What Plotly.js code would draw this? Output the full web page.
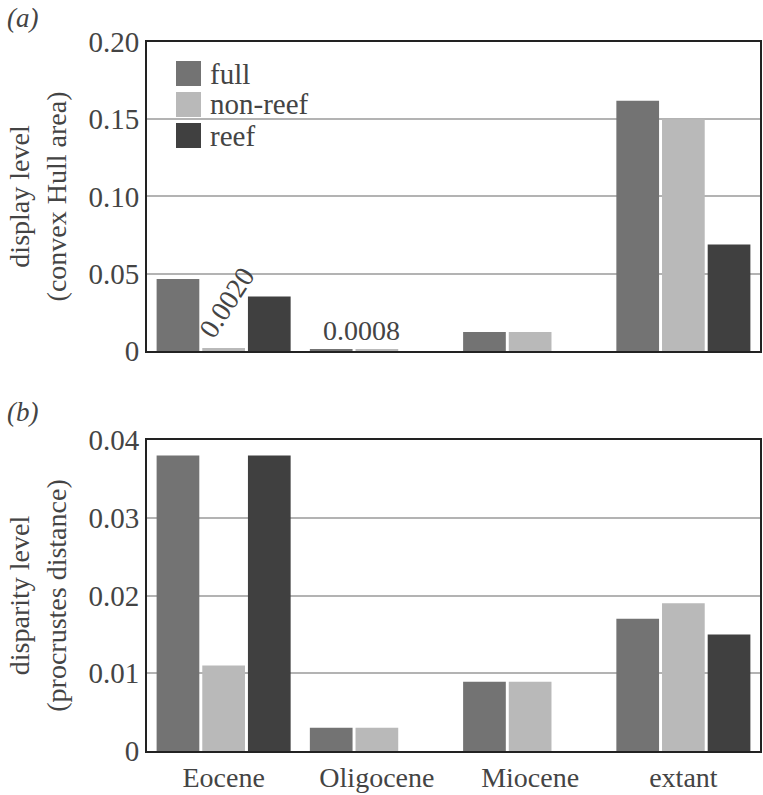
<!DOCTYPE html>
<html>
<head>
<meta charset="utf-8">
<script src="https://cdn.plot.ly/plotly-3.0.1.min.js"></script>
</head>
<body style="margin:0">
<div id="c" style="width:763px;height:795px"></div>
<script>
const categories = ["Eocene", "Oligocene", "Miocene", "extant"];
const seriesNames = ["full", "non-reef", "reef"];
const seriesColors = ["#737373", "#b9b9b9", "#404040"];

// panel (a): display level (convex Hull area)
const hullFull = [0.0466, 0.0008, 0.0123, 0.162];
const hullNonReef = [0.0020, 0.0008, 0.0123, 0.150];
const hullReef = [0.0353, 0.0, 0.0, 0.069];

// panel (b): disparity level (procrustes distance)
const procFull = [0.038, 0.003, 0.0089, 0.017];
const procNonReef = [0.011, 0.003, 0.0089, 0.019];
const procReef = [0.038, 0.0, 0.0, 0.015];

const ticksA = [0, 0.05, 0.10, 0.15, 0.20];
const tickTextA = ["0", "0.05", "0.10", "0.15", "0.20"];
const ticksB = [0, 0.01, 0.02, 0.03, 0.04];
const tickTextB = ["0", "0.01", "0.02", "0.03", "0.04"];

const traces = [];
[hullFull, hullNonReef, hullReef].forEach((vals, i) => {
  traces.push({type: "bar", x: categories, y: vals, name: seriesNames[i],
    marker: {color: seriesColors[i]}, xaxis: "x", yaxis: "y", showlegend: false});
});
[procFull, procNonReef, procReef].forEach((vals, i) => {
  traces.push({type: "bar", x: categories, y: vals, name: seriesNames[i],
    marker: {color: seriesColors[i]}, xaxis: "x2", yaxis: "y2", showlegend: false});
});

// custom legend (large squares)
const shapes = [];
const ann = [];
const legTop = 61, legStep = 31, legSize = 25, legX = 176;
seriesNames.forEach((n, i) => {
  const y0 = legTop + i * legStep;
  shapes.push({type: "rect", xref: "paper", yref: "paper",
    x0: (legX - 147) / 613, x1: (legX + legSize - 147) / 613,
    y0: (751 - y0 - legSize) / 709, y1: (751 - y0) / 709,
    fillcolor: seriesColors[i], line: {width: 0}});
  ann.push({xref: "paper", yref: "paper", x: (208 - 147) / 613,
    y: (751 - y0 - legSize / 2) / 709, xanchor: "left", yanchor: "middle",
    text: n, showarrow: false, font: {family: "Liberation Serif", size: 29}});
});

// value labels
ann.push({xref: "x", yref: "y", x: categories[0], y: hullNonReef[0],
  text: "0.0020", textangle: -57, showarrow: false, xanchor: "center", yanchor: "bottom",
  xshift: 3, yshift: 2, font: {family: "Liberation Serif", size: 28}});
ann.push({xref: "x", yref: "y", x: categories[1], y: hullNonReef[1],
  text: "0.0008", showarrow: false, xanchor: "center", yanchor: "bottom",
  xshift: -15, yshift: 2, font: {family: "Liberation Serif", size: 28}});

// panel labels
ann.push({xref: "paper", yref: "paper", x: -142 / 613, y: (751 - 18) / 709,
  text: "<i>(a)</i>", showarrow: false, xanchor: "left", yanchor: "middle",
  font: {family: "Liberation Serif", size: 27}});
ann.push({xref: "paper", yref: "paper", x: -142 / 613, y: (751 - 412) / 709,
  text: "<i>(b)</i>", showarrow: false, xanchor: "left", yanchor: "middle",
  font: {family: "Liberation Serif", size: 27}});

Plotly.newPlot("c", traces, {
  width: 763, height: 795,
  margin: {l: 147, r: 3, t: 42, b: 44},
  barmode: "group", bargap: 0.106, bargroupgap: 0.065,
  showlegend: false,
  xaxis: {domain: [0, 1], anchor: "y", showticklabels: false, showgrid: false,
    range: [-0.5, 3.5], showline: true, linecolor: "#222", linewidth: 2, mirror: true,
    zeroline: false},
  yaxis: {domain: [0.5642, 1], anchor: "x", range: [0, 0.2],
    showline: true, linecolor: "#222", linewidth: 2, mirror: true, zeroline: false,
    tickvals: ticksA, ticktext: tickTextA, showgrid: true, gridcolor: "#b3b3b3", gridwidth: 1.5,
    tickfont: {family: "Liberation Serif", size: 29},
    title: {text: "display level<br>(convex Hull area)", standoff: 14,
      font: {family: "Liberation Serif", size: 28}}},
  xaxis2: {domain: [0, 1], anchor: "y2", showgrid: false, range: [-0.5, 3.5],
    showline: true, linecolor: "#222", linewidth: 2, mirror: true, zeroline: false,
    tickfont: {family: "Liberation Serif", size: 28}},
  yaxis2: {domain: [0, 0.4386], anchor: "x2", range: [0, 0.04],
    showline: true, linecolor: "#222", linewidth: 2, mirror: true, zeroline: false,
    tickvals: ticksB, ticktext: tickTextB, showgrid: true, gridcolor: "#b3b3b3", gridwidth: 1.5,
    tickfont: {family: "Liberation Serif", size: 29},
    title: {text: "disparity level<br>(procrustes distance)", standoff: 14,
      font: {family: "Liberation Serif", size: 28}}},
  shapes: shapes,
  annotations: ann
}, {displayModeBar: false});
</script>
</body>
</html>
